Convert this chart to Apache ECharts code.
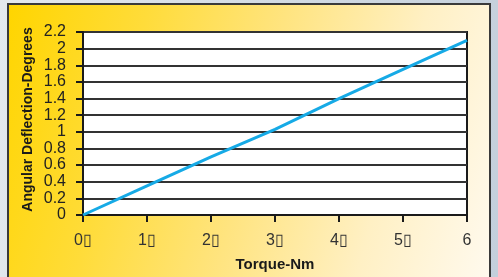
<!DOCTYPE html>
<html>
<head>
<meta charset="utf-8">
<script src="https://cdn.jsdelivr.net/npm/echarts@6/dist/echarts.min.js"></script>
<style>
	html, body {
		margin: 0;
		padding: 0;
		width: 498px;
		height: 277px;
		overflow: hidden;
		background: linear-gradient(100deg, #e4e9ee 0%, #d3dbe3 50%, #c3cfdb 100%);
	}
	#frame {
		position: absolute;
		left: 7px;
		top: 3px;
		width: 480px;
		height: 300px;
		border: 2px solid #3a3a3a;
		background: linear-gradient(105deg, #ffd500 0%, #ffdc3a 25%, #ffe480 50%, #fff0c4 75%, #fffaf0 100%);
	}
	#chartDom {
		position: absolute;
		left: 0;
		top: 0;
		width: 498px;
		height: 277px;
	}
</style>
</head>
<body>
<div id="frame"></div>
<div id="chartDom"></div>
<script>
var torque = [0, 1, 2, 3, 4, 5, 6];
var deflection = [0, 0.35, 0.7, 1.03, 1.4, 1.75, 2.1];
var xTickLabels = ['0\u25AF', '1\u25AF', '2\u25AF', '3\u25AF', '4\u25AF', '5\u25AF', '6'];
var yTickLabels = ['0', '0.2', '0.4', '0.6', '0.8', '1', '1.2', '1.4', '1.6', '1.8', '2', '2.2'];

lineChart();

function lineChart() {
	var dom = document.getElementById("chartDom");
	var myChart = echarts.init(dom);

	var points = torque.map(function(t, i) {
		return [t, deflection[i]];
	});

	var option = {
		backgroundColor: 'transparent',
		animation: false,
		textStyle: {
			fontFamily: 'Liberation Sans, Arial'
		},
		grid: {
			left: 83,
			top: 32,
			right: 31,
			bottom: 62,
			show: true,
			backgroundColor: '#ffffff',
			borderColor: '#1a1a1a',
			borderWidth: 2
		},
		xAxis: {
			type: 'value',
			min: 0,
			max: 6,
			interval: 1,
			name: 'Torque-Nm',
			nameLocation: 'middle',
			nameGap: 42,
			nameMoveOverlap: false,
			nameTextStyle: {
				color: '#1a1a1a',
				fontSize: 15,
				fontWeight: 'bold',
				fontFamily: 'Liberation Sans, Arial'
			},
			axisLine: {
				lineStyle: {
					color: '#1a1a1a',
					width: 2
				}
			},
			axisTick: {
				show: true,
				length: 7,
				lineStyle: {
					color: '#1a1a1a',
					width: 2
				}
			},
			axisLabel: {
				margin: 18,
				color: '#333',
				fontSize: 16,
				showMinLabel: true,
				showMaxLabel: true,
				hideOverlap: false,
				formatter: function(v) {
					return xTickLabels[Math.round(v)];
				}
			},
			splitLine: {
				show: false
			}
		},
		yAxis: {
			type: 'value',
			min: 0,
			max: 2.2,
			interval: 0.2,
			name: 'Angular Deflection-Degrees',
			nameLocation: 'middle',
			nameGap: 48,
			nameMoveOverlap: false,
			nameTextStyle: {
				color: '#1a1a1a',
				fontSize: 14,
				fontWeight: 'bold',
				fontFamily: 'Liberation Sans, Arial',
				padding: [0, 0, 0, 8]
			},
			axisLine: {
				show: true,
				lineStyle: {
					color: '#1a1a1a',
					width: 2
				}
			},
			axisTick: {
				show: true,
				length: 7,
				lineStyle: {
					color: '#1a1a1a',
					width: 2
				}
			},
			axisLabel: {
				margin: 17,
				color: '#222',
				fontSize: 16,
				showMinLabel: true,
				showMaxLabel: true,
				hideOverlap: false,
				formatter: function(v) {
					return yTickLabels[Math.round(v / 0.2)];
				}
			},
			splitLine: {
				show: true,
				lineStyle: {
					color: '#333',
					width: 2
				}
			}
		},
		series: [{
			type: 'line',
			data: points,
			symbol: 'none',
			lineStyle: {
				color: '#16aae6',
				width: 3
			}
		}]
	};
	myChart.setOption(option, true);
}
</script>
</body>
</html>
